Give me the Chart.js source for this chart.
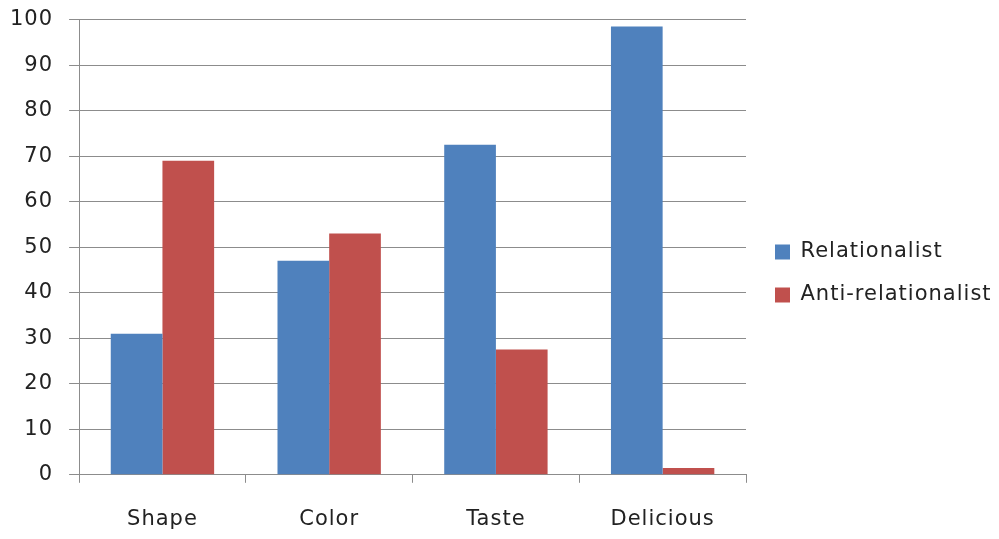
<!DOCTYPE html>
<html>
<head>
<meta charset="utf-8">
<script src="https://cdn.jsdelivr.net/npm/chart.js@4.4.0/dist/chart.umd.min.js"></script>
<style>
    html, body { margin: 0; padding: 0; background: #fff; overflow: hidden; }
    #box { position: relative; top: -9px; width: 999px; height: 539px; }
</style>
</head>
<body>
<div id="box"><canvas id="grafico"></canvas></div>
<script>
// categorias e valores
const categorias = ['Shape', 'Color', 'Taste', 'Delicious'];
const relationalist = [31, 47, 72.5, 98.5];
const antiRelationalist = [69, 53, 27.5, 1.5];
const ticksY = [0, 10, 20, 30, 40, 50, 60, 70, 80, 90, 100];

const fonte = "'DejaVu Sans', sans-serif";
const cinza = '#8c8c8c';
const larguraLegenda = 253;

// texto um pouco mais espaçado, como no original
const espacamento = {
    id: 'espacamento',
    beforeUpdate(chart) { chart.ctx.letterSpacing = '1px'; },
    beforeDraw(chart) { chart.ctx.letterSpacing = '1px'; }
};

// legenda mais larga, afastada do grafico
const legendaLarga = {
    id: 'legendaLarga',
    beforeInit(chart) {
        const leg = chart.legend;
        const fitOriginal = leg.fit;
        leg.fit = function () {
            fitOriginal.call(this);
            this.width = larguraLegenda;
        };
    },
    afterLayout(chart) {
        chart.legend.left += 7;
    }
};

new Chart(document.getElementById('grafico'), {
    type: 'bar',
    data: {
        labels: categorias,
        datasets: [{
            label: 'Relationalist',
            data: relationalist,
            backgroundColor: '#4F81BD',
            borderWidth: 0
        }, {
            label: 'Anti-relationalist',
            data: antiRelationalist,
            backgroundColor: '#C0504D',
            borderWidth: 0
        }]
    },
    plugins: [espacamento, legendaLarga],
    options: {
        responsive: true,
        maintainAspectRatio: false,
        animation: false,
        layout: {
            padding: { top: 0, right: 0, bottom: -26, left: -6 }
        },
        datasets: {
            bar: { categoryPercentage: 0.62, barPercentage: 1 }
        },
        plugins: {
            legend: {
                position: 'right',
                labels: {
                    boxWidth: 15,
                    boxHeight: 15,
                    padding: 22,
                    color: '#222',
                    font: { family: fonte, size: 21 }
                }
            },
            tooltip: { enabled: false }
        },
        scales: {
            x: {
                grid: {
                    display: true,
                    offset: true,
                    drawOnChartArea: false,
                    drawTicks: true,
                    tickLength: 8,
                    color: cinza
                },
                border: { color: cinza, width: 1 },
                ticks: {
                    color: '#222',
                    padding: 24,
                    font: { family: fonte, size: 21 }
                }
            },
            y: {
                min: 0,
                max: 100,
                afterBuildTicks: function (axis) {
                    axis.ticks = ticksY.map(v => ({ value: v }));
                },
                grid: {
                    color: cinza,
                    tickLength: 10
                },
                border: { color: cinza, width: 1 },
                ticks: {
                    color: '#222',
                    padding: 16,
                    font: { family: fonte, size: 21 }
                }
            }
        }
    }
});
</script>
</body>
</html>
